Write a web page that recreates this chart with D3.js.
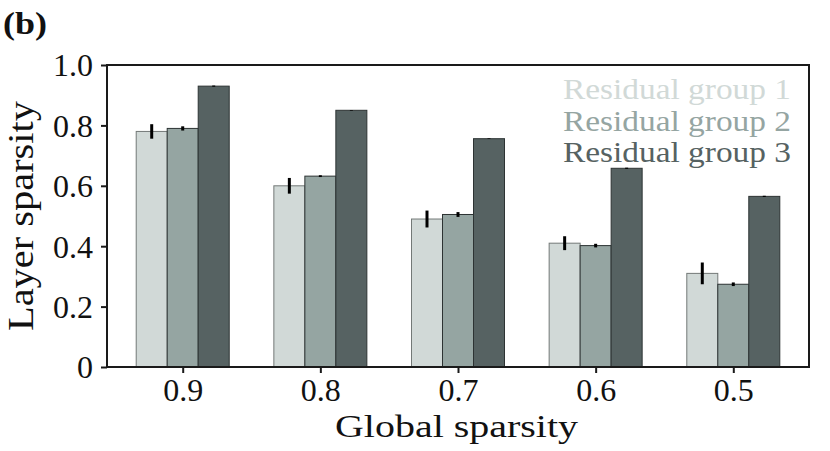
<!DOCTYPE html>
<html>
<head>
<meta charset="utf-8">
<script src="https://cdn.jsdelivr.net/npm/d3@7"></script>
<style>
  body { margin: 0; background: #fff; }
  svg text { font-family: "Liberation Serif", "DejaVu Serif", serif; }
</style>
</head>
<body>
<svg id="chart" width="830" height="451"></svg>
<script>
// values
const sparsity = ["0.9", "0.8", "0.7", "0.6", "0.5"];
const groups = ["Residual group 1", "Residual group 2", "Residual group 3"];
const group1 = [0.78, 0.60, 0.49, 0.41, 0.31];
const group2 = [0.79, 0.632, 0.505, 0.402, 0.274];
const group3 = [0.93, 0.85, 0.756, 0.658, 0.565];
const err1 = [0.024, 0.026, 0.028, 0.023, 0.036];
const err2 = [0.007, 0.003, 0.008, 0.006, 0.006];
const err3 = [0.002, 0.001, 0.001, 0.002, 0.002];
const yTicks = [0, 0.2, 0.4, 0.6, 0.8, 1.0];

const colours = ["#d1d9d7", "#95a5a2", "#566262"];
const edges = ["#737977", "#2d3333", "#2d3333"];

const margin = {top: 65, right: 21, bottom: 84, left: 107};
const width = 830, height = 451;
const innerW = width - margin.left - margin.right;
const innerH = height - margin.top - margin.bottom;

const svg = d3.select("#chart");
const g = svg.append("g").attr("transform", `translate(${margin.left},${margin.top})`);

const x = d3.scalePoint().domain(sparsity).range([0, innerW]).padding(0.55);
const xg = d3.scaleBand().domain(groups).range([-46.5, 46.5]).padding(0);
const y = d3.scaleLinear().domain([0, 1]).range([innerH, 0]);

const values = [group1, group2, group3];
const errs = [err1, err2, err3];
const rows = [];
groups.forEach((grp, gi) => {
  sparsity.forEach((s, i) => {
    rows.push({s, grp, gi, v: values[gi][i], e: errs[gi][i]});
  });
});

// bars
g.selectAll("rect.bar").data(rows).join("rect")
  .attr("class", "bar")
  .attr("x", d => x(d.s) + xg(d.grp))
  .attr("y", d => y(d.v))
  .attr("width", xg.bandwidth())
  .attr("height", d => innerH - y(d.v))
  .attr("fill", d => colours[d.gi])
  .attr("stroke", d => edges[d.gi])
  .attr("stroke-width", 1);

// error bars
g.selectAll("line.err").data(rows).join("line")
  .attr("class", "err")
  .attr("x1", d => x(d.s) + xg(d.grp) + xg.bandwidth() / 2)
  .attr("x2", d => x(d.s) + xg(d.grp) + xg.bandwidth() / 2)
  .attr("y1", d => y(d.v - d.e))
  .attr("y2", d => y(d.v + d.e))
  .attr("stroke", "#000")
  .attr("stroke-width", 3);

// axes
const yAxis = g.append("g").call(d3.axisLeft(y).tickValues(yTicks)
  .tickFormat(d => d === 0 ? "0" : d3.format(".1f")(d))
  .tickSize(6).tickPadding(8));
const xAxis = g.append("g").attr("transform", `translate(0,${innerH})`)
  .call(d3.axisBottom(x).tickSize(6).tickPadding(8));
[xAxis, yAxis].forEach(a => {
  a.select(".domain").remove();
  a.selectAll(".tick line").attr("stroke", "#1a1a1a").attr("stroke-width", 2);
  a.selectAll(".tick text").attr("fill", "#111").style("font-size", "32px").attr("font-family", null);
});
xAxis.selectAll(".tick text").attr("y", 34).attr("dy", 0);
yAxis.selectAll(".tick text").attr("dy", "0.34em");

// frame
g.append("rect")
  .attr("x", 0).attr("y", 0)
  .attr("width", innerW).attr("height", innerH)
  .attr("fill", "none")
  .attr("stroke", "#1a1a1a")
  .attr("stroke-width", 2);

// axis titles
svg.append("text")
  .attr("x", 335).attr("y", 437)
  .attr("textLength", 243).attr("lengthAdjust", "spacingAndGlyphs")
  .style("font-size", "31px").attr("fill", "#111")
  .text("Global sparsity");

svg.append("text")
  .attr("transform", "translate(33,331) scale(1.08,1) rotate(-90)")
  .attr("x", 0).attr("y", 0)
  .attr("textLength", 230).attr("lengthAdjust", "spacingAndGlyphs")
  .style("font-size", "34px").attr("fill", "#111")
  .text("Layer sparsity");

// legend (coloured text)
svg.selectAll("text.legend").data(groups).join("text")
  .attr("class", "legend")
  .attr("x", 563)
  .attr("y", (d, i) => 99 + i * 31.5)
  .attr("textLength", 228).attr("lengthAdjust", "spacingAndGlyphs")
  .style("font-size", "30px")
  .attr("fill", (d, i) => colours[i])
  .text(d => d);

// panel label
svg.append("text")
  .attr("x", 3).attr("y", 34)
  .attr("textLength", 44).attr("lengthAdjust", "spacingAndGlyphs")
  .style("font-size", "32px").style("font-weight", "bold").attr("fill", "#111")
  .text("(b)");
</script>
</body>
</html>
